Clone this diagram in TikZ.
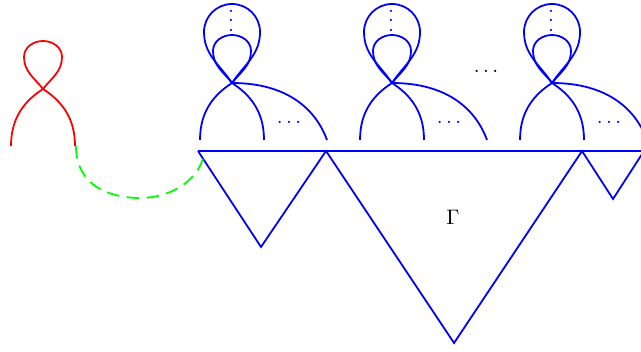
\documentclass[tikz,border=0pt]{standalone}
\definecolor{pureblue}{RGB}{0,0,255}
\definecolor{purered}{RGB}{255,0,0}
\definecolor{puregreen}{RGB}{0,255,0}
\begin{document}
\begin{tikzpicture}[x=0.476pt,y=0.476pt,
  strand/.style={line width=0.85pt},
  bluestrand/.style={strand,draw=pureblue},
  redstrand/.style={strand,draw=purered},
  dotlabel/.style={text=pureblue,anchor=base,inner sep=0pt},
  curl/.pic={
    \draw[pic actions] (-32,-57) .. controls (-32,-27) and (-16.8,-10.9) .. (0,0)
      .. controls (16.8,-10.9) and (32,-27) .. (32,-57);
    \draw[pic actions] (0,0) to[out=52,in=-90] (19,32) to[out=90,in=0] (0,48)
      to[out=180,in=90] (-19,32) to[out=-90,in=128] (0,0);
  },
  bigcurl/.pic={
    \draw[pic actions] (-32,-57) .. controls (-32,-27) and (-16.8,-10.9) .. (0,0)
      .. controls (16.8,-10.9) and (32,-27) .. (32,-57);
    \draw[pic actions] (0,0) to[out=52,in=-90] (19,32) to[out=90,in=0] (0,48)
      to[out=180,in=90] (-19,32) to[out=-90,in=128] (0,0);
    \draw[pic actions] (0,0) to[out=56,in=-90] (28,51) to[out=90,in=0] (0,79)
      to[out=180,in=90] (-28,51) to[out=-90,in=124] (0,0);
    \draw[pic actions] (0,0) .. controls (58,0) and (84.7,-28.8) .. (95,-57);
    \node[dotlabel] at (-1,70.8) {.};
    \node[dotlabel] at (-1,61.3) {.};
    \node[dotlabel] at (-1,51.8) {.};
    \node[text=pureblue] at (57,-39) {$\ldots$};
  }]
\useasboundingbox (0,0) rectangle (641,351);
\clip (0,0) rectangle (641,351);

% red curl
\coordinate (r) at (43,262);
\pic[redstrand] at (r) {curl};

% blue curls
\coordinate (b1) at (232,268);
\coordinate (b2) at (392,268);
\coordinate (b3) at (552,268);
\pic[bluestrand] at (b1) {bigcurl};
\pic[bluestrand] at (b2) {bigcurl};
\pic[bluestrand] at (b3) {bigcurl};

% base line and triangles
\coordinate (p0) at (198,200);
\coordinate (q1) at (261,104);
\coordinate (p1) at (326,200);
\coordinate (q2) at (454,8);
\coordinate (p2) at (582,200);
\coordinate (q3) at (613,152);
\coordinate (p3) at (644,200);
\coordinate (pe) at (660,200);
\draw[bluestrand] (p0) -- (pe);
\draw[bluestrand,line join=miter] (p0) -- (q1) -- (p1) -- (q2) -- (p2) -- (q3) -- (p3);

% green dashed connector
\coordinate (g0) at (76,205);
\coordinate (gm) at (140,153);
\coordinate (g1) at (203,193);
\draw[strand,draw=puregreen,dash pattern=on 6pt off 3.5pt]
  (g0) .. controls (76,165) and (110,153) .. (gm)
       .. controls (170,153) and (197,170) .. (g1);

% labels
\node (gamma) at (453,134) {$\Gamma$};
\node (dots) at (486,280) {$\ldots$};
\end{tikzpicture}
\end{document}
